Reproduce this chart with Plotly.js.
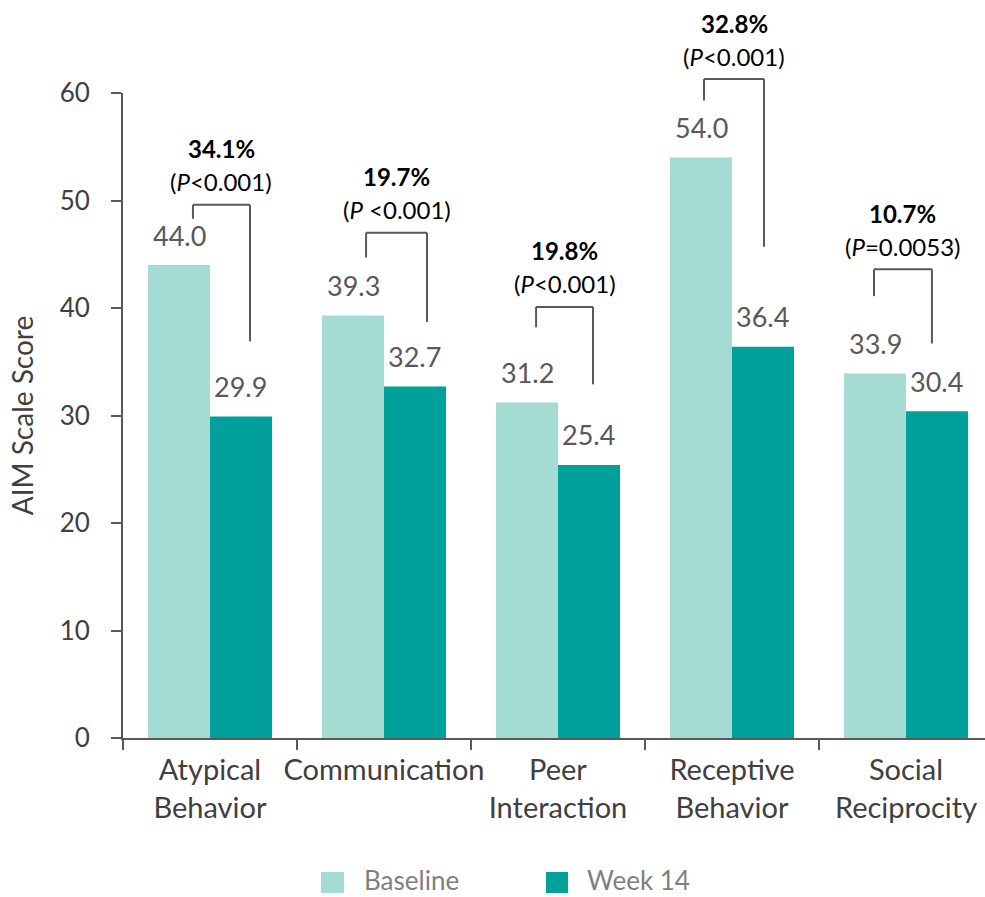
<!DOCTYPE html>
<html>
<head>
<meta charset="utf-8">
<script src="https://cdn.plot.ly/plotly-3.0.1.min.js"></script>
<style>html,body{margin:0;padding:0;background:#fff;}#chart{width:985px;height:897px;}</style>
</head>
<body>
<div id="chart"></div>
<script>
// ---- data ----
const categories = ['Atypical<br>Behavior', 'Communication', 'Peer<br>Interaction', 'Receptive<br>Behavior', 'Social<br>Reciprocity'];
const seriesNames = ['Baseline', 'Week 14'];
const baseline = [44.0, 39.3, 31.2, 54.0, 33.9];
const week14 = [29.9, 32.7, 25.4, 36.4, 30.4];
const pctChange = ['34.1%', '19.7%', '19.8%', '32.8%', '10.7%'];
const pPrefix = ['<', ' <', '<', '<', '='];
const pNumber = ['0.001', '0.001', '0.001', '0.001', '0.0053'];
const yTicks = [0, 10, 20, 30, 40, 50, 60];

// bracket heights (AIM scale units)
const bracketTop = [49.6, 47.0, 40.1, 61.3, 43.6];
const bracketLeftEnd = [48.3, 44.7, 38.2, 59.3, 41.1];
const bracketRightEnd = [36.9, 38.7, 32.9, 45.7, 36.7];

// ---- styling / layout ----
const colors = ['#A4DBD2', '#00A19A'];
const FONT = 'Lato, "Open Sans", sans-serif';
const textDark = '#404040';
const W = 985, H = 897;
const M = {l: 123, r: 0, t: 93, b: 159};
const plotW = W - M.l - M.r, plotH = H - M.t - M.b;
const catPx = 174;
const xRange = [-0.5, -0.5 + plotW / catPx];
const yRange = [0, 60];
const barOff = 0.178;
const legLeft = [-0.098, -0.103, -0.126, -0.161, -0.184];
const legRight = [0.230, 0.247, 0.201, 0.184, 0.149];

const xp = v => (v - xRange[0]) / (xRange[1] - xRange[0]);
const yp = v => (v - yRange[0]) / (yRange[1] - yRange[0]);

const traces = [
  {type: 'bar', name: seriesNames[0], x: categories, y: baseline, marker: {color: colors[0]}, showlegend: false, hoverinfo: 'x+y'},
  {type: 'bar', name: seriesNames[1], x: categories, y: week14, marker: {color: colors[1]}, showlegend: false, hoverinfo: 'x+y'}
];

const shapes = [];
const annotations = [];
const lineStyle = {color: '#595959', width: 2};

categories.forEach((c, i) => {
  const xl = xp(i + legLeft[i]), xr = xp(i + legRight[i]);
  const yt = yp(bracketTop[i]);
  shapes.push({type: 'line', xref: 'paper', yref: 'paper', x0: xl, x1: xl, y0: yp(bracketLeftEnd[i]), y1: yt, line: lineStyle});
  shapes.push({type: 'line', xref: 'paper', yref: 'paper', x0: xl, x1: xr, y0: yt, y1: yt, line: lineStyle});
  shapes.push({type: 'line', xref: 'paper', yref: 'paper', x0: xr, x1: xr, y0: yt, y1: yp(bracketRightEnd[i]), line: lineStyle});
  const xm = (xl + xr) / 2;
  annotations.push({xref: 'paper', yref: 'paper', x: xm, y: yt, yshift: 56, xanchor: 'center', yanchor: 'middle', showarrow: false,
    text: '<b>' + pctChange[i] + '</b>', font: {family: FONT, size: 24, color: '#000000'}});
  const pre = pPrefix[i].replace('<', '&lt;');
  annotations.push({xref: 'paper', yref: 'paper', x: xm, y: yt, yshift: 23, xanchor: 'center', yanchor: 'middle', showarrow: false,
    text: '(<i>P</i>' + pre + pNumber[i] + ')', font: {family: FONT, size: 24, color: '#000000'}});
  // value labels
  annotations.push({xref: 'paper', yref: 'y', x: xp(i - barOff), y: baseline[i], yshift: 30, xanchor: 'center', yanchor: 'middle', showarrow: false,
    text: baseline[i].toFixed(1), font: {family: FONT, size: 27, color: '#595959'}});
  annotations.push({xref: 'paper', yref: 'y', x: xp(i + barOff), y: week14[i], yshift: 30, xanchor: 'center', yanchor: 'middle', showarrow: false,
    text: week14[i].toFixed(1), font: {family: FONT, size: 27, color: '#595959'}});
});

// legend (custom)
const pxX = px => (px - M.l) / plotW;
const pxY = py => (H - M.b - py) / plotH;
const legendItems = [
  {sq: [321, 344], tx: 363},
  {sq: [546, 568], tx: 586}
];
legendItems.forEach((it, k) => {
  shapes.push({type: 'rect', xref: 'paper', yref: 'paper', x0: pxX(it.sq[0]), x1: pxX(it.sq[1]), y0: pxY(893), y1: pxY(872),
    fillcolor: colors[k], line: {width: 0}});
  annotations.push({xref: 'paper', yref: 'paper', x: pxX(it.tx), y: pxY(880), xanchor: 'left', yanchor: 'middle', showarrow: false,
    borderpad: 0, text: seriesNames[k], font: {family: FONT, size: 26, color: '#7F7F7F'}});
});

const layout = {
  width: W, height: H,
  margin: M,
  paper_bgcolor: '#ffffff', plot_bgcolor: '#ffffff',
  barmode: 'group', bargap: 0.287, bargroupgap: 0,
  font: {family: FONT, color: textDark},
  showlegend: false,
  xaxis: {
    type: 'category', range: xRange, fixedrange: true, tickangle: 0, automargin: false,
    showline: true, linecolor: '#595959', linewidth: 2,
    ticks: 'outside', tickson: 'boundaries', ticklen: 10, tickcolor: '#595959', tickwidth: 2,
    tickfont: {family: FONT, size: 29, color: textDark},
    showgrid: false, zeroline: false, ticklabelstandoff: 5
  },
  yaxis: {
    range: yRange, tickvals: yTicks, fixedrange: true, automargin: false,
    showline: true, linecolor: '#595959', linewidth: 2,
    ticks: 'outside', ticklen: 10, tickcolor: '#595959', tickwidth: 2,
    tickfont: {family: FONT, size: 26, color: textDark},
    showgrid: false, zeroline: false, ticklabelstandoff: 16,
    title: {text: 'AIM Scale Score', font: {family: FONT, size: 28, color: textDark}, standoff: 18}
  },
  shapes: shapes,
  annotations: annotations
};

Plotly.newPlot('chart', traces, layout, {displayModeBar: false, staticPlot: true});
</script>
</body>
</html>
